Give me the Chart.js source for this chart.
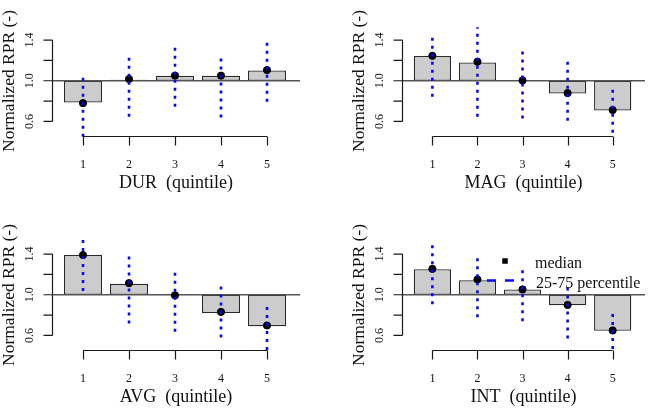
<!DOCTYPE html>
<html><head><meta charset="utf-8">
<script src="https://cdn.jsdelivr.net/npm/chart.js@4.4.1/dist/chart.umd.min.js"></script>
<style>
html,body{margin:0;padding:0;background:#fff;overflow:hidden;width:649px;height:417px;}
canvas{position:absolute;display:block;}
</style></head><body>
<canvas id="c1" width="325" height="214" style="left:0;top:0"></canvas>
<canvas id="c2" width="300" height="214" style="left:350px;top:0"></canvas>
<canvas id="c3" width="325" height="203" style="left:0;top:214px"></canvas>
<canvas id="c4" width="300" height="203" style="left:350px;top:214px"></canvas>
<script>
// ---------- data ----------
const categories = [1, 2, 3, 4, 5];
const xTickLabels = ['1', '2', '3', '4', '5'];
const yTicks = [0.6, 0.8, 1.0, 1.2, 1.4];
const yTickLabels = ['0.6', '', '1.0', '', '1.4'];
const yTitle = 'Normalized RPR (-)';
const baselineValue = 1.0;

const durBar    = [0.785, 1.01, 1.05, 1.05, 1.10];
const durMedian = [0.78, 1.017, 1.05, 1.05, 1.105];
const durQ25    = [0.45, 0.646, 0.744, 0.639, 0.793];
const durQ75    = [1.046, 1.252, 1.351, 1.243, 1.393];

const magBar    = [1.243, 1.18, 1.005, 0.875, 0.708];
const magMedian = [1.245, 1.187, 1.003, 0.879, 0.712];
const magQ25    = [0.843, 0.646, 0.63, 0.607, 0.489];
const magQ75    = [1.466, 1.525, 1.334, 1.23, 0.925];

const avgBar    = [1.39, 1.107, 0.994, 0.821, 0.691];
const avgMedian = [1.39, 1.114, 0.994, 0.831, 0.698];
const avgQ25    = [1.036, 0.717, 0.636, 0.58, 0.457];
const avgQ75    = [1.546, 1.40, 1.228, 1.10, 0.906];

const intBar    = [1.25, 1.143, 1.052, 0.896, 0.645];
const intMedian = [1.254, 1.15, 1.052, 0.90, 0.649];
const intQ25    = [0.906, 0.78, 0.74, 0.571, 0.467];
const intQ75    = [1.50, 1.40, 1.27, 1.107, 0.83];

const legendLabels = ['median', '25-75 percentile'];

// ---------- styling ----------
const FONT = '"Liberation Serif", "Times New Roman", serif';
const BLUE = '#0a0af0';
const X_MIN = 0.326, X_MAX = 5.717;
const Y_MIN = 0.457, Y_MAX = 1.538;

const rAxes = {
  id: 'rAxes',
  afterDraw(chart, args, o) {
    const ctx = chart.ctx, xs = chart.scales.x, ys = chart.scales.y, ca = chart.chartArea;
    ctx.save();
    ctx.strokeStyle = '#1a1a1a'; ctx.lineWidth = 1.2; ctx.fillStyle = '#111';
    // y axis
    const ax = Math.round(ca.left) + 0.5;
    ctx.beginPath();
    ctx.moveTo(ax, ys.getPixelForValue(yTicks[0]));
    ctx.lineTo(ax, ys.getPixelForValue(yTicks[yTicks.length - 1]));
    yTicks.forEach(v => { const p = ys.getPixelForValue(v); ctx.moveTo(ax, p); ctx.lineTo(ax - 9, p); });
    ctx.stroke();
    ctx.font = '12px ' + FONT; ctx.textAlign = 'center'; ctx.textBaseline = 'alphabetic';
    yTicks.forEach((v, i) => {
      if (!yTickLabels[i]) return;
      const p = ys.getPixelForValue(v);
      ctx.save(); ctx.translate(ax - 20, p); ctx.rotate(-Math.PI / 2); ctx.fillText(yTickLabels[i], 0, 0); ctx.restore();
    });
    ctx.font = '17.5px ' + FONT;
    ctx.save(); ctx.translate(14, (ca.top + ca.bottom) / 2); ctx.rotate(-Math.PI / 2); ctx.fillText(yTitle, 0, 0); ctx.restore();
    // x axis
    const by = Math.round(ca.bottom) + 0.5;
    ctx.beginPath();
    ctx.moveTo(xs.getPixelForValue(categories[0]), by);
    ctx.lineTo(xs.getPixelForValue(categories[categories.length - 1]), by);
    categories.forEach(c => { const p = Math.round(xs.getPixelForValue(c)) + 0.5; ctx.moveTo(p, by); ctx.lineTo(p, by + 9); });
    ctx.stroke();
    ctx.font = '12px ' + FONT;
    categories.forEach((c, i) => ctx.fillText(xTickLabels[i], xs.getPixelForValue(c), ca.bottom + 32));
    ctx.font = '18px ' + FONT;
    ctx.fillText(o.xTitle, (ca.left + ca.right) / 2, ca.bottom + 52);
    // legend
    if (o.legend) {
      const lx = 155, ly1 = 47, ly2 = 66.5;
      ctx.fillStyle = '#000';
      ctx.fillRect(lx - 2.75, ly1 - 2.75, 5.5, 5.5);
      ctx.strokeStyle = BLUE; ctx.lineWidth = 2.5; ctx.setLineDash([9, 9]);
      ctx.beginPath(); ctx.moveTo(lx - 18, ly2); ctx.lineTo(lx + 11, ly2); ctx.stroke();
      ctx.setLineDash([]);
      ctx.fillStyle = '#111'; ctx.font = '16px ' + FONT; ctx.textAlign = 'left';
      ctx.fillText(legendLabels[0], lx + 30, ly1 + 6.5);
      ctx.fillText(legendLabels[1], lx + 31, ly2 + 7);
    }
    ctx.restore();
  }
};

function makePanel(id, xTitle, bars, medians, q25, q75, legend) {
  const canvas = document.getElementById(id);
  const W = canvas.width, H = canvas.height;
  const datasets = [
    {
      type: 'bar',
      data: categories.map((c, i) => ({ x: c, y: [baselineValue, bars[i]] })),
      backgroundColor: '#cccccc', borderColor: '#2a2a2a', borderWidth: 1.3,
      borderSkipped: false, barPercentage: 0.826, categoryPercentage: 1, order: 4
    },
    {
      type: 'line',
      data: [{ x: X_MIN, y: baselineValue }, { x: X_MAX, y: baselineValue }],
      borderColor: '#555', borderWidth: 1.5, pointRadius: 0, order: 3
    },
    {
      type: 'line', showLine: false,
      data: categories.map((c, i) => ({ x: c, y: medians[i] })),
      pointRadius: 3.6, pointBackgroundColor: '#000', pointBorderColor: '#000', pointBorderWidth: 1, order: 2
    }
  ];
  categories.forEach((c, i) => datasets.push({
    type: 'line',
    data: [{ x: c, y: q25[i] }, { x: c, y: q75[i] }],
    borderColor: BLUE, borderWidth: 2.6, borderDash: [3, 5], borderCapStyle: 'butt',
    pointRadius: 0, order: 1, clip: false
  }));
  return new Chart(canvas, {
    type: 'bar',
    data: { datasets },
    options: {
      responsive: false, animation: false, devicePixelRatio: 1, events: [],
      layout: { padding: { left: 52, right: W - 300, top: 26, bottom: H - 136 } },
      scales: {
        x: { type: 'linear', min: X_MIN, max: X_MAX, offset: false, display: false, grid: { offset: false } },
        y: { type: 'linear', min: Y_MIN, max: Y_MAX, display: false }
      },
      plugins: { legend: { display: false }, tooltip: { enabled: false }, rAxes: { xTitle, legend } }
    },
    plugins: [rAxes]
  });
}

makePanel('c1', 'DUR  (quintile)', durBar, durMedian, durQ25, durQ75, false);
makePanel('c2', 'MAG  (quintile)', magBar, magMedian, magQ25, magQ75, false);
makePanel('c3', 'AVG  (quintile)', avgBar, avgMedian, avgQ25, avgQ75, false);
makePanel('c4', 'INT  (quintile)', intBar, intMedian, intQ25, intQ75, true);
</script>
</body></html>
